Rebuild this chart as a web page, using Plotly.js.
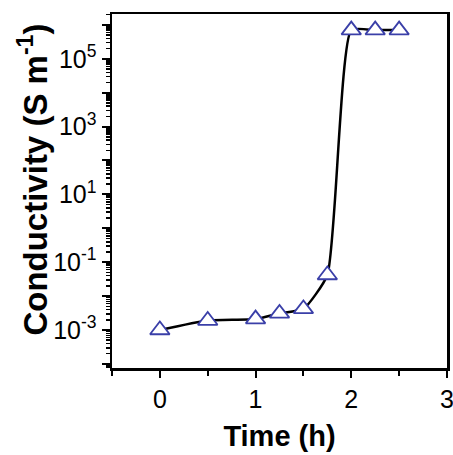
<!DOCTYPE html>
<html>
<head>
<meta charset="utf-8">
<script src="https://cdn.plot.ly/plotly-3.0.1.min.js"></script>
<style>html,body{margin:0;padding:0;background:#fff;}#chart{width:453px;height:455px;}</style>
</head>
<body>
<div id="chart"></div>
<script>
const timeH = [0, 0.5, 1.0, 1.25, 1.5, 1.75, 2.0, 2.25, 2.5];
const conductivity = [0.001, 0.0019, 0.0021, 0.0031, 0.0042, 0.042, 7e5, 7e5, 7e5];
const xTickVals = [0, 1, 2, 3];
const xTickText = ['0', '1', '2', '3'];
const yTickVals = [1e-4, 1e-3, 1e-2, 1e-1, 1, 10, 100, 1e3, 1e4, 1e5, 1e6];
const yTickText = ['', '10<sup>-3</sup>', '', '10<sup>-1</sup>', '', '10<sup>1</sup>', '', '10<sup>3</sup>', '', '10<sup>5</sup>', ''];
const xTitle = '<b>Time (h)</b>';
const yTitle = '<b>Conductivity (S m<sup>-1</sup>)</b>';

const trace = {
  x: timeH,
  y: conductivity,
  mode: 'lines+markers',
  line: {color: '#000000', width: 2.5, shape: 'spline', smoothing: 0.5},
  marker: {symbol: 'triangle-up', size: 17, color: '#ffffff', line: {color: '#3a3fa8', width: 1.8}},
  showlegend: false,
  cliponaxis: false
};

const layout = {
  width: 453, height: 455,
  margin: {l: 112, r: 6, t: 14, b: 87},
  paper_bgcolor: '#ffffff', plot_bgcolor: '#ffffff',
  font: {family: 'Liberation Sans, Arial, sans-serif', color: '#000000', size: 25},
  xaxis: {
    range: [-0.5, 3.0001], tickmode: 'array', tickvals: xTickVals, ticktext: xTickText,
    ticklabeloverflow: 'allow',
    ticks: 'outside', ticklen: 7, tickwidth: 2, tickcolor: '#000',
    minor: {dtick: 0.5, ticks: 'outside', ticklen: 5, tickwidth: 2, tickcolor: '#000'},
    showline: true, linewidth: 2.5, linecolor: '#000', mirror: true,
    showgrid: false, zeroline: false,
    tickfont: {size: 25},
    title: {text: xTitle, font: {size: 29}, standoff: 14}
  },
  yaxis: {
    type: 'log', range: [-4.12, 6.32], tickmode: 'array', tickvals: yTickVals, ticktext: yTickText,
    ticklabeloverflow: 'allow',
    ticks: 'outside', ticklen: 8, tickwidth: 2, tickcolor: '#000',
    minor: {dtick: 'D1', ticks: 'outside', ticklen: 4, tickwidth: 1.5, tickcolor: '#000'},
    showline: true, linewidth: 2.5, linecolor: '#000', mirror: true,
    showgrid: false, zeroline: false,
    tickfont: {size: 25}
  },
  annotations: [{
    text: yTitle, xref: 'paper', yref: 'paper', x: -0.236, y: 0.532,
    xanchor: 'center', yanchor: 'middle', textangle: -90, showarrow: false,
    font: {size: 33, color: '#000'}
  }]
};

Plotly.newPlot('chart', [trace], layout, {displayModeBar: false, staticPlot: true});
</script>
</body>
</html>
